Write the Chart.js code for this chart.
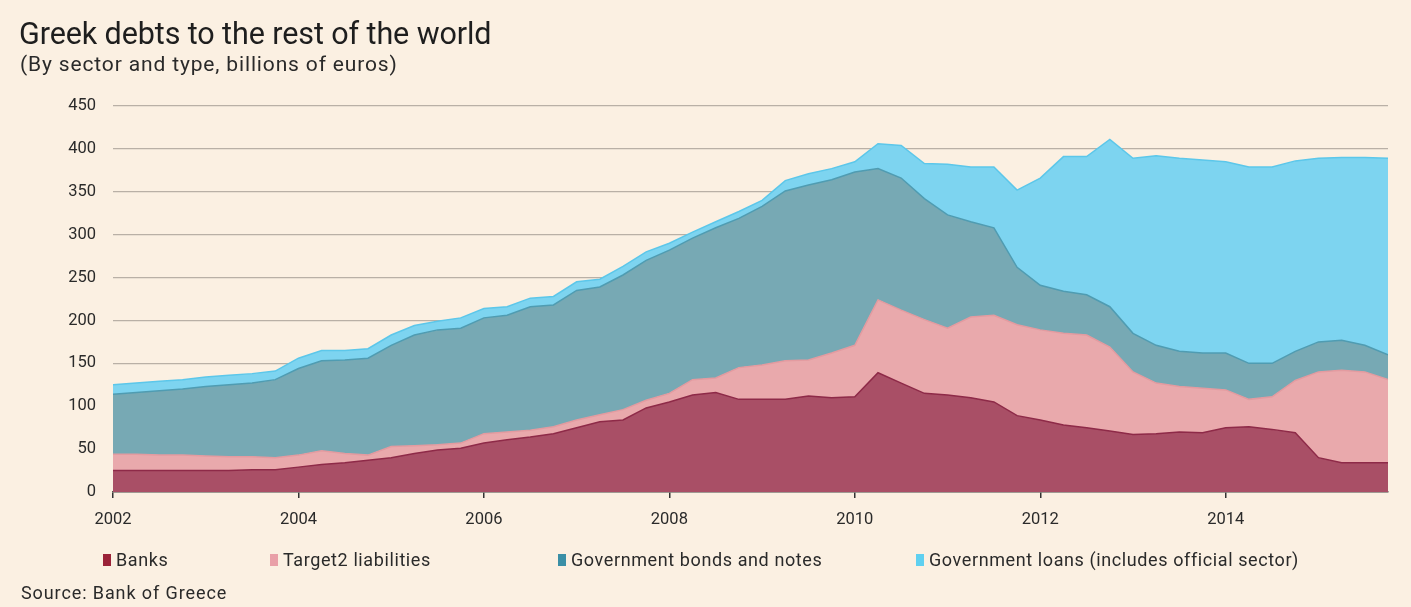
<!DOCTYPE html>
<html>
<head>
<meta charset="utf-8">
<script src="https://cdn.jsdelivr.net/npm/chart.js@4/dist/chart.umd.min.js"></script>
<style>
  html, body { margin: 0; padding: 0; background: #fbf0e2; }
  #wrap { position: relative; width: 1411px; height: 607px; overflow: hidden; background: #fbf0e2; font-family: Roboto, "Noto Sans", sans-serif; color: #222; }
  #title { position: absolute; left: 19px; top: 16px; font-size: 30.5px; letter-spacing: -0.1px; color: #1e1e1e; white-space: nowrap; }
  #sub { position: absolute; left: 20px; top: 52px; font-size: 21px; letter-spacing: 0.85px; color: #2a2a2a; white-space: nowrap; }
  #source { position: absolute; left: 21px; top: 582px; font-size: 18px; letter-spacing: 0.9px; color: #2a2a2a; white-space: nowrap; }
  .lg { position: absolute; top: 549px; font-size: 18px; letter-spacing: 0.6px; color: #2a2a2a; white-space: nowrap; display: flex; align-items: center; }
  .lg i { display: inline-block; width: 8px; height: 12px; margin-right: 5px; }
  canvas { position: absolute; left: 0; top: 0; }
</style>
</head>
<body>
<div id="wrap">
  <canvas id="c" width="1411" height="607"></canvas>
  <div id="title">Greek debts to the rest of the world</div>
  <div id="sub">(By sector and type, billions of euros)</div>
  <div id="legend"></div>
  <div id="source">Source: Bank of Greece</div>
</div>
<script>
// ---- Data (billions of euros, quarterly) ----
const quarters = [
  2002.00, 2002.25, 2002.50, 2002.75, 2003.00, 2003.25, 2003.50, 2003.75,
  2004.00, 2004.25, 2004.50, 2004.75, 2005.00, 2005.25, 2005.50, 2005.75,
  2006.00, 2006.25, 2006.50, 2006.75, 2007.00, 2007.25, 2007.50, 2007.75,
  2008.00, 2008.25, 2008.50, 2008.75, 2009.00, 2009.25, 2009.50, 2009.75,
  2010.00, 2010.25, 2010.50, 2010.75, 2011.00, 2011.25, 2011.50, 2011.75,
  2012.00, 2012.25, 2012.50, 2012.75, 2013.00, 2013.25, 2013.50, 2013.75,
  2014.00, 2014.25, 2014.50, 2014.75, 2015.00, 2015.25, 2015.50, 2015.75
];
const banks = [
  25, 25, 25, 25, 25, 25, 26, 26, 29, 32, 34, 37, 40, 45, 49, 51,
  57, 61, 64, 68, 75, 82, 84, 98, 105, 113, 116, 108, 108, 108, 112, 110,
  111, 139, 127, 115, 113, 110, 105, 89, 84, 78, 75, 71, 67, 68, 70, 69,
  75, 76, 73, 69, 40, 34, 34, 34
];
const target2 = [
  19, 19, 18, 18, 17, 16, 15, 14, 14, 16, 11, 6, 13, 9, 6, 6,
  11, 9, 8, 8, 9, 8, 12, 9, 10, 18, 17, 37, 40, 45, 42, 52,
  60, 85, 85, 86, 78, 94, 101, 106, 105, 107, 108, 98, 73, 59, 53, 52,
  44, 32, 38, 61, 100, 108, 106, 97
];
const bonds = [
  70, 72, 75, 77, 81, 84, 86, 91, 101, 105, 109, 113, 118, 129, 134, 134,
  135, 136, 144, 142, 151, 149, 157, 163, 167, 165, 175, 174, 185, 198, 204, 202,
  202, 153, 154, 141, 132, 111, 102, 67, 52, 49, 47, 47, 45, 44, 41, 41,
  43, 42, 39, 34, 35, 35, 31, 29
];
const loans = [
  11, 11, 11, 11, 11, 11, 11, 10, 12, 12, 11, 11, 12, 11, 10, 12,
  11, 10, 10, 10, 10, 9, 10, 10, 8, 7, 7, 8, 7, 12, 13, 13,
  12, 29, 38, 41, 59, 64, 71, 90, 125, 157, 161, 195, 204, 221, 225, 225,
  223, 229, 229, 222, 214, 213, 219, 229
];
const seriesNames = ["Banks", "Target2 liabilities", "Government bonds and notes", "Government loans (includes official sector)"];
const yTicks = [0, 50, 100, 150, 200, 250, 300, 350, 400, 450];
const xTickLabels = ["2002", "2004", "2006", "2008", "2010", "2012", "2014"];

// ---- Styles ----
const fills   = ["#a94f66", "#e9a9ac", "#77a9b4", "#7dd4f0"];
const borders = ["#8e2a48", "#e39ba0", "#4f9cb2", "#5cc7ea"];
const markers = ["#9b2338", "#e9a0a8", "#3a8fa6", "#5fd0f0"];
const legendLeft = [103, 270, 558, 916];

const seriesValues = [banks, target2, bonds, loans];
const datasets = seriesValues.map((vals, i) => ({
  label: seriesNames[i],
  data: vals.map((v, j) => ({ x: quarters[j], y: v })),
  backgroundColor: fills[i],
  borderColor: borders[i],
  borderWidth: 1.5,
  pointRadius: 0,
  tension: 0,
  fill: i === 0 ? 'origin' : '-1'
}));

const lg = document.getElementById('legend');
seriesNames.forEach((n, i) => {
  const d = document.createElement('div');
  d.className = 'lg';
  d.style.left = legendLeft[i] + 'px';
  d.innerHTML = '<i style="background:' + markers[i] + '"></i><span></span>';
  d.querySelector('span').textContent = n;
  lg.appendChild(d);
});

new Chart(document.getElementById('c'), {
  type: 'line',
  data: { datasets },
  options: {
    responsive: false,
    animation: false,
    layout: { padding: { left: 0, top: 106, right: 23, bottom: 75 } },
    plugins: { legend: { display: false }, tooltip: { enabled: false }, title: { display: false } },
    scales: {
      x: {
        type: 'linear',
        min: quarters[0],
        max: quarters[quarters.length - 1],
        afterBuildTicks: s => { s.ticks = xTickLabels.map(t => ({ value: Number(t) })); },
        afterFit: s => { s.height = 40; },
        ticks: {
          callback: v => String(v),
          color: '#2a2a2a',
          font: { family: 'Roboto, "Noto Sans", sans-serif', size: 16.5 },
          padding: 12,
          maxRotation: 0,
          autoSkip: false
        },
        grid: { drawOnChartArea: false, drawTicks: true, tickLength: 6, color: '#333', lineWidth: 1.5 },
        border: { display: true, color: '#555', width: 1.5 }
      },
      y: {
        stacked: true,
        min: 0,
        max: 450,
        afterBuildTicks: s => { s.ticks = yTicks.map(v => ({ value: v })); },
        afterFit: s => { s.width = 113; },
        ticks: {
          color: '#2a2a2a',
          font: { family: 'Roboto, "Noto Sans", sans-serif', size: 16.5 },
          padding: 17
        },
        grid: { drawTicks: false, color: '#b9b0a6', lineWidth: 1.3 },
        border: { display: false }
      }
    }
  }
});
</script>
</body>
</html>
